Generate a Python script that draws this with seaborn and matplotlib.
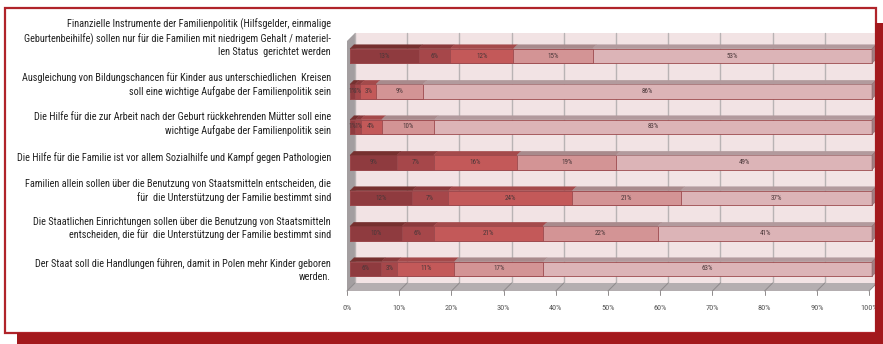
import numpy as np
import pandas as pd
import seaborn as sns
import matplotlib
matplotlib.use("Agg")
import matplotlib.pyplot as plt
from matplotlib.patches import Polygon, Rectangle
from matplotlib.transforms import ScaledTranslation
from matplotlib import font_manager
from matplotlib.font_manager import FontProperties

# ---- data -----------------------------------------------------------------
statements = [
    "Finanzielle Instrumente der Familienpolitik (Hilfsgelder, einmalige\n"
    "Geburtenbeihilfe) sollen nur für die Familien mit niedrigem Gehalt / materiel-\n"
    "len Status  gerichtet werden",
    "Ausgleichung von Bildungschancen für Kinder aus unterschiedlichen  Kreisen\n"
    "soll eine wichtige Aufgabe der Familienpolitik sein",
    "Die Hilfe für die zur Arbeit nach der Geburt rückkehrenden Mütter soll eine\n"
    "wichtige Aufgabe der Familienpolitik sein",
    "Die Hilfe für die Familie ist vor allem Sozialhilfe und Kampf gegen Pathologien",
    "Familien allein sollen über die Benutzung von Staatsmitteln entscheiden, die\n"
    "für  die Unterstützung der Familie bestimmt sind",
    "Die Staatlichen Einrichtungen sollen über die Benutzung von Staatsmitteln\n"
    "entscheiden, die für  die Unterstützung der Familie bestimmt sind",
    "Der Staat soll die Handlungen führen, damit in Polen mehr Kinder geboren\n"
    "werden.",
]
row_ids = [f"s{i}" for i in range(len(statements))]

share_1 = [13, 1, 1, 9, 12, 10, 6]
share_2 = [6, 1, 1, 7, 7, 6, 3]
share_3 = [12, 3, 4, 16, 24, 21, 11]
share_4 = [15, 9, 10, 19, 21, 22, 17]
share_5 = [53, 86, 83, 49, 37, 41, 63]

tick_values = list(range(0, 101, 10))
tick_labels = [f"{v}%" for v in tick_values]

# ---- style ----------------------------------------------------------------
front_colors = ["#8f3b3f", "#a6474a", "#c35959", "#d39495", "#dcb4b7"]
top_colors = ["#76302f", "#8a3a3c", "#a44a4b", "#a88a8c", "#b29a9d"]
edge_color = "#9c4a4e"

sns.set_theme(style="white")


def pick_narrow_font():
    """Prefer a condensed/narrow sans face; fall back to Liberation Sans."""
    prefs = []
    for f in font_manager.fontManager.ttflist:
        name = f.name
        stretch = str(f.stretch)
        is_narrow = ("Narrow" in name or "Condensed" in name or "Cond" in f.fname
                     or stretch in ("condensed", "semi-condensed", "extra-condensed"))
        if is_narrow and f.style == "normal" and f.weight in (400, "normal", "regular"):
            score = 0 if "Liberation" in name else (1 if "Roboto" in name else 2)
            prefs.append((score, f.fname, name))
    if prefs:
        prefs.sort()
        return prefs[0][1]
    for f in font_manager.fontManager.ttflist:
        if f.name == "Liberation Sans" and f.style == "normal" and f.weight in (400, "normal"):
            return f.fname
    return font_manager.findfont("DejaVu Sans")


font_path = pick_narrow_font()
plt.rcParams["font.family"] = ["DejaVu Sans"]

W, H = 883, 344
fig = plt.figure(figsize=(W / 100, H / 100), dpi=100)
fig.patch.set_facecolor("white")
renderer = fig.canvas.get_renderer()

# axes placed in pixel terms; data mapping: 0% -> 350px, 10% = 52.2px
px_per_pct = 5.22
row_px0, row_step = 56.0, 35.5
ax_l, ax_r, ax_t, ax_b = 335, 883, 25, 300
ax = fig.add_axes([ax_l / W, 1 - ax_b / H, (ax_r - ax_l) / W, (ax_b - ax_t) / H])


def X(px):
    return (px - 350) / px_per_pct


def Y(py):
    return (py - row_px0) / row_step


def fitted_size(sample, target_px, base=8.0):
    probe = fig.text(0, 0, sample, fontproperties=FontProperties(fname=font_path, size=base))
    w = probe.get_window_extent(renderer).width
    probe.remove()
    return base * target_px / w


# normalised stacked shares (100 % stacked bar)
shares = np.array([share_1, share_2, share_3, share_4, share_5], dtype=float)
totals = shares.sum(axis=0)
pct = shares / totals * 100
cum = np.cumsum(pct, axis=0)
starts = cum - pct

# back wall, left wall, floor
wall_c, side_c, floor_c, grid_c = "#f2e3e4", "#a39ea0", "#b4aeb0", "#b9b3b4"
back_l, back_r, back_t, back_b = 355, 877, 33, 283
front_l, front_b = 347, 291
ax.add_patch(Polygon([(X(back_l), Y(back_t)), (X(back_r), Y(back_t)),
                      (X(back_r), Y(back_b)), (X(back_l), Y(back_b))],
                     closed=True, facecolor=wall_c, edgecolor="none", zorder=0))
ax.add_patch(Polygon([(X(back_l), Y(back_t)), (X(back_l), Y(back_b)),
                      (X(front_l), Y(front_b)), (X(front_l), Y(back_t + 8))],
                     closed=True, facecolor=side_c, edgecolor="none", zorder=0.5))
ax.add_patch(Polygon([(X(back_l), Y(back_b)), (X(back_r), Y(back_b)),
                      (X(back_r - 8), Y(front_b)), (X(front_l), Y(front_b))],
                     closed=True, facecolor=floor_c, edgecolor="none", zorder=0.5))
for v in tick_values:
    bx = X(back_l) + v
    fx = X(front_l) + v
    ax.plot([bx, bx], [Y(back_t), Y(back_b)], color=grid_c, lw=1.0, zorder=0.6)
    ax.plot([bx, fx], [Y(back_b), Y(front_b)], color="#8e8a8b", lw=0.7, zorder=0.7)
    ax.plot([fx, fx], [Y(front_b), Y(front_b + 4)], color="#8e8a8b", lw=0.7, zorder=0.7)

# front faces: cumulative bars drawn from the widest to the narrowest
bar_w = 14.5 / row_step
for k in range(4, -1, -1):
    sns.barplot(x=cum[k], y=row_ids, orient="y", color=front_colors[k],
                width=bar_w, edgecolor=edge_color, linewidth=0.6,
                saturation=1, ax=ax, zorder=2)

# top and end faces for the 3-D look
value_fp = FontProperties(fname=font_path, size=fitted_size("13%", 11.5))
dx, dy = 4 / px_per_pct, -4 / row_step
for i in range(len(row_ids)):
    top = i - bar_w / 2
    bot = i + bar_w / 2
    for k in range(5):
        x0, x1 = starts[k, i], cum[k, i]
        ax.add_patch(Polygon([(x0, top), (x1, top), (x1 + dx, top + dy), (x0 + dx, top + dy)],
                             closed=True, facecolor=top_colors[k], edgecolor=top_colors[k],
                             lw=0.3, zorder=3))
    xe = cum[4, i]
    ax.add_patch(Polygon([(xe, top), (xe + dx, top + dy), (xe + dx, bot + dy), (xe, bot)],
                         closed=True, facecolor="#a27e82", edgecolor="#8e6468", lw=0.4, zorder=3))
    for k in range(5):
        xc = starts[k, i] + pct[k, i] / 2
        ax.text(xc, i, f"{int(shares[k, i])}%", ha="center", va="center",
                fontproperties=value_fp, color="#4a3739", zorder=4)

ax.set_xlim(X(ax_l), X(ax_r))
ax.set_ylim(Y(ax_b), Y(ax_t))
ax.set_xlabel("")
ax.set_ylabel("")
ax.set_yticks([])
ax.set_xticks(tick_values)
ax.set_xticklabels(tick_labels)
tick_fp = FontProperties(fname=font_path, size=fitted_size("10%", 13.5))
ax.tick_params(axis="x", length=0, pad=3.5, labelcolor="#555555")
shift = ScaledTranslation(-3 / 100, 0, fig.dpi_scale_trans)
for lbl in ax.get_xticklabels():
    lbl.set_fontproperties(tick_fp)
    lbl.set_transform(lbl.get_transform() + shift)
for s in ax.spines.values():
    s.set_visible(False)
ax.set_facecolor("none")
ax.grid(False)

# statement labels to the left of the bars
label_size = fitted_size(statements[3], 317.0)
label_fp = FontProperties(fname=font_path, size=label_size)
line_px = label_size * 100 / 72 * 1.2
label_nudge_px = [18, 7, 3, 5, 7, 5, -1]
for i, (txt, nudge) in enumerate(zip(statements, label_nudge_px)):
    y_px = row_px0 + row_step * i - nudge
    fig.text(331 / W, 1 - y_px / H, txt, ha="right", va="center",
             fontproperties=label_fp, color="#222222",
             linespacing=16.5 / line_px, multialignment="right")

# frame with a heavy offset shadow
shadow = "#a3191d"
fig.add_artist(Rectangle((875 / W, 0), 8 / W, 1 - 23 / H, transform=fig.transFigure,
                         facecolor=shadow, edgecolor="none", zorder=10))
fig.add_artist(Rectangle((17 / W, 0), (W - 17) / W, 11 / H, transform=fig.transFigure,
                         facecolor=shadow, edgecolor="none", zorder=10))
fig.add_artist(Rectangle((4.5 / W, 1 - 333 / H), 871.5 / W, 325 / H, transform=fig.transFigure,
                         facecolor="none", edgecolor="#b0242a", lw=1.6, zorder=9))

fig.savefig("out.png", dpi=100)
